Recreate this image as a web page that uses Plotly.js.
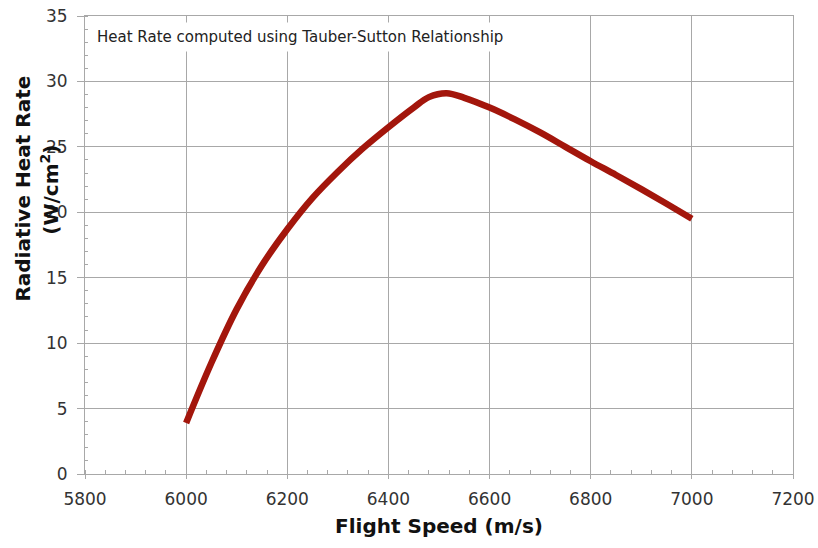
<!DOCTYPE html>
<html>
<head>
<meta charset="utf-8">
<script src="https://cdn.plot.ly/plotly-3.0.1.min.js"></script>
<style>
  html, body { margin: 0; padding: 0; background: #fff; }
  #chart { width: 818px; height: 548px; }
</style>
</head>
<body>
<div id="chart"></div>
<script>
// Flight speed (m/s) and radiative heat rate (W/cm^2)
const speed = [6000, 6050, 6100, 6150, 6200, 6250, 6300, 6350, 6400, 6450, 6480, 6515, 6550, 6600, 6650, 6700, 6750, 6800, 6850, 6900, 6950, 7000];
const heatRate = [3.9, 8.5, 12.6, 15.95, 18.7, 21.1, 23.1, 24.9, 26.5, 28.0, 28.8, 29.1, 28.75, 28.0, 27.1, 26.1, 25.0, 23.9, 22.85, 21.77, 20.65, 19.5];

const xTicks = [5800, 6000, 6200, 6400, 6600, 6800, 7000, 7200];
const yTicks = [0, 5, 10, 15, 20, 25, 30, 35];

const gridColor = '#a8a8a8';
const fontFamily = 'DejaVu Sans, Verdana, sans-serif';
const tickFont = { family: fontFamily, size: 17, color: '#333333' };

const trace = {
  x: speed,
  y: heatRate,
  type: 'scatter',
  mode: 'lines',
  line: { color: '#a3160c', width: 6.5, shape: 'spline', smoothing: 1 },
  hoverinfo: 'x+y'
};

const layout = {
  width: 818,
  height: 548,
  margin: { l: 85, r: 25, t: 16, b: 74 },
  paper_bgcolor: '#ffffff',
  plot_bgcolor: '#ffffff',
  showlegend: false,
  xaxis: {
    range: [5800, 7200],
    tickmode: 'array',
    tickvals: xTicks,
    ticktext: xTicks.map(String),
    tickfont: tickFont,
    ticks: 'outside',
    ticklen: 4,
    tickcolor: gridColor,
    ticklabelstandoff: 6,
    showgrid: true,
    gridcolor: gridColor,
    gridwidth: 1,
    zeroline: false,
    showline: true,
    linecolor: gridColor,
    linewidth: 1,
    mirror: true,
    minor: { dtick: 40, tick0: 5800, ticks: 'inside', ticklen: 4, tickcolor: gridColor, showgrid: false },
    title: {
      text: 'Flight Speed (m/s)',
      font: { family: fontFamily, size: 20, color: '#111111', weight: 'bold' },
      standoff: 10
    },
    automargin: false
  },
  yaxis: {
    range: [0, 35],
    tickmode: 'array',
    tickvals: yTicks,
    ticktext: yTicks.map(String),
    tickfont: tickFont,
    ticks: 'outside',
    ticklen: 7,
    tickcolor: gridColor,
    ticklabelstandoff: 6,
    showgrid: true,
    gridcolor: gridColor,
    gridwidth: 1,
    zeroline: false,
    showline: true,
    linecolor: gridColor,
    linewidth: 1,
    mirror: true,
    minor: { dtick: 1, tick0: 0, ticks: 'inside', ticklen: 3, tickcolor: gridColor, showgrid: false },
    automargin: false
  },
  annotations: [
    {
      text: 'Heat Rate computed using Tauber-Sutton Relationship',
      xref: 'paper', yref: 'paper',
      x: 0.008, y: 0.955,
      xanchor: 'left', yanchor: 'middle',
      showarrow: false,
      bgcolor: '#ffffff',
      borderpad: 5,
      font: { family: fontFamily, size: 15, color: '#222222' }
    },
    {
      text: '<b>Radiative Heat Rate</b>',
      xref: 'paper', yref: 'paper',
      x: -0.087, y: 0.624,
      xanchor: 'center', yanchor: 'middle',
      textangle: -90,
      showarrow: false,
      font: { family: fontFamily, size: 20, color: '#111111' }
    },
    {
      text: '<b>(W/cm<sup>2</sup>)</b>',
      xref: 'paper', yref: 'paper',
      x: -0.05, y: 0.62,
      xanchor: 'center', yanchor: 'middle',
      textangle: -90,
      showarrow: false,
      font: { family: fontFamily, size: 20, color: '#111111' }
    }
  ]
};

Plotly.newPlot('chart', [trace], layout, { displayModeBar: false, staticPlot: true });
</script>
</body>
</html>
